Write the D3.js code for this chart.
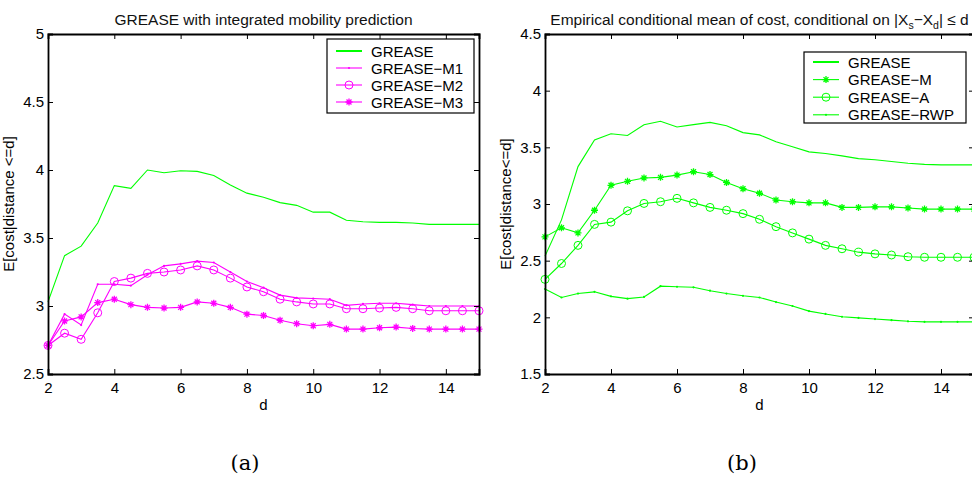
<!DOCTYPE html>
<html>
<head>
<meta charset="utf-8">
<script src="https://cdn.jsdelivr.net/npm/d3@7"></script>
<style>
  body { margin: 0; background: #fff; }
  svg { display: block; font-family: "Liberation Sans", Arial, sans-serif; }
</style>
</head>
<body>
<svg id="chart" width="972" height="479"></svg>
<script>
// x values shared by every series (d = 2 .. 15, step 0.5)
const dValues = [2, 2.5, 3, 3.5, 4, 4.5, 5, 5.5, 6, 6.5, 7, 7.5, 8, 8.5, 9, 9.5, 10, 10.5, 11, 11.5, 12, 12.5, 13, 13.5, 14, 14.5, 15];

// Panel (a): GREASE with integrated mobility prediction
const aGrease = [3.03, 3.37, 3.44, 3.61, 3.885, 3.865, 4.0, 3.98, 3.995, 3.99, 3.96, 3.89, 3.83, 3.80, 3.76, 3.74, 3.69, 3.69, 3.63, 3.62, 3.615, 3.615, 3.61, 3.60, 3.60, 3.60, 3.60];
const aM1 = [2.71, 2.94, 2.86, 3.16, 3.16, 3.15, 3.23, 3.295, 3.31, 3.33, 3.32, 3.25, 3.18, 3.135, 3.08, 3.06, 3.055, 3.05, 3.005, 3.015, 3.02, 3.02, 3.01, 3.0, 3.0, 3.0, 3.0];
const aM2 = [2.71, 2.80, 2.755, 2.95, 3.18, 3.205, 3.24, 3.25, 3.265, 3.295, 3.265, 3.205, 3.14, 3.105, 3.05, 3.03, 3.015, 3.015, 2.98, 2.98, 2.985, 2.99, 2.98, 2.965, 2.965, 2.965, 2.965];
const aM3 = [2.71, 2.89, 2.92, 3.025, 3.05, 3.01, 2.99, 2.985, 2.99, 3.03, 3.02, 2.99, 2.94, 2.93, 2.895, 2.87, 2.855, 2.865, 2.83, 2.83, 2.84, 2.845, 2.835, 2.83, 2.83, 2.83, 2.83];

// Panel (b): empirical conditional mean of cost
const bGrease = [2.54, 2.86, 3.33, 3.565, 3.62, 3.605, 3.70, 3.73, 3.68, 3.70, 3.72, 3.69, 3.63, 3.61, 3.55, 3.505, 3.46, 3.445, 3.425, 3.40, 3.39, 3.375, 3.36, 3.35, 3.345, 3.345, 3.345];
const bM = [2.71, 2.79, 2.745, 2.945, 3.165, 3.2, 3.23, 3.235, 3.255, 3.285, 3.26, 3.19, 3.135, 3.095, 3.035, 3.02, 3.01, 3.01, 2.97, 2.97, 2.975, 2.975, 2.965, 2.955, 2.955, 2.955, 2.955];
const bA = [2.335, 2.475, 2.635, 2.82, 2.84, 2.94, 3.005, 3.02, 3.05, 3.01, 2.97, 2.945, 2.915, 2.865, 2.80, 2.745, 2.69, 2.635, 2.605, 2.575, 2.56, 2.55, 2.535, 2.53, 2.53, 2.53, 2.53];
const bRwp = [2.25, 2.175, 2.21, 2.225, 2.185, 2.165, 2.18, 2.275, 2.27, 2.265, 2.235, 2.21, 2.19, 2.175, 2.135, 2.1, 2.055, 2.03, 2.005, 1.995, 1.985, 1.975, 1.965, 1.96, 1.96, 1.96, 1.96];

const xTicks = [2, 4, 6, 8, 10, 12, 14];
const aYTicks = [2.5, 3, 3.5, 4, 4.5, 5];
const bYTicks = [1.5, 2, 2.5, 3, 3.5, 4, 4.5];

const GREEN = '#00ff00';
const MAGENTA = '#ff00ff';

const svg = d3.select('#chart');

// star marker like matlab '*'
function starPath(r) {
    const d = r * 0.7071;
    return `M${-r},0L${r},0M0,${-r}L0,${r}M${-d},${-d}L${d},${d}M${-d},${d}L${d},${-d}`;
}

function drawMarker(g, kind, x, y, color) {
    if (kind === 'circle') {
        g.append('circle').attr('cx', x).attr('cy', y).attr('r', 4)
            .attr('fill', 'none').attr('stroke', color).attr('stroke-width', 1);
    } else if (kind === 'dot') {
        g.append('circle').attr('cx', x).attr('cy', y).attr('r', 1.1).attr('fill', color);
    } else if (kind === 'star') {
        g.append('path').attr('d', starPath(3.5)).attr('transform', `translate(${x},${y})`)
            .attr('fill', 'none').attr('stroke', color).attr('stroke-width', 1.3);
    }
}

function drawPanel(opts) {
    const { left, top, right, bottom, yDomain, yTicks, series, title, ylabel, caption, legend } = opts;
    const g = svg.append('g');

    const x = d3.scaleLinear().domain([2, 15]).range([left, right]);
    const y = d3.scaleLinear().domain(yDomain).range([bottom, top]);

    // series
    const line = d3.line().x((d, i) => x(dValues[i])).y(d => y(d));
    series.forEach(s => {
        g.append('path').datum(s.values).attr('fill', 'none')
            .attr('stroke', s.color).attr('stroke-width', 1.1).attr('d', line);
        if (s.marker) {
            s.values.forEach((v, i) => drawMarker(g, s.marker, x(dValues[i]), y(v), s.color));
        }
    });

    // axes with inward ticks, box on
    const axB = g.append('g').attr('transform', `translate(0,${bottom})`)
        .call(d3.axisBottom(x).tickValues(xTicks).tickSize(-5).tickPadding(5).tickFormat(d3.format('d')));
    const axT = g.append('g').attr('transform', `translate(0,${top})`)
        .call(d3.axisTop(x).tickValues(xTicks).tickSize(-5).tickFormat(''));
    const axL = g.append('g').attr('transform', `translate(${left},0)`)
        .call(d3.axisLeft(y).tickValues(yTicks).tickSize(-5).tickPadding(4).tickFormat(d => d));
    const axR = g.append('g').attr('transform', `translate(${right},0)`)
        .call(d3.axisRight(y).tickValues(yTicks).tickSize(-5).tickFormat(''));
    [axB, axT, axL, axR].forEach(a => {
        a.select('.domain').attr('stroke', '#000').attr('stroke-width', 1.8);
        a.selectAll('.tick line').attr('stroke', '#000').attr('stroke-width', 1);
        a.selectAll('text').attr('font-size', 15).attr('fill', '#000')
            .attr('font-family', '"Liberation Sans", Arial, sans-serif');
    });
    axB.selectAll('text').attr('dy', '0.9em');

    // title
    const t = g.append('text').attr('x', (left + right) / 2).attr('y', 25)
        .attr('text-anchor', 'middle').attr('font-size', 15.5).attr('fill', '#111');
    title(t);

    // axis labels
    g.append('text').attr('x', (left + right) / 2).attr('y', 410)
        .attr('text-anchor', 'middle').attr('font-size', 15).text('d');
    g.append('text').attr('transform', `translate(${left - 34},${(top + bottom) / 2}) rotate(-90)`)
        .attr('text-anchor', 'middle').attr('font-size', 15).text(ylabel);

    // caption
    svg.append('text').attr('x', caption.x).attr('y', 470).attr('text-anchor', 'middle')
        .attr('font-family', '"DejaVu Serif", "Liberation Serif", serif').attr('font-size', 21)
        .text(caption.text);

    // legend
    const lg = g.append('g');
    lg.append('rect').attr('x', legend.x).attr('y', legend.y).attr('width', legend.w).attr('height', legend.h)
        .attr('fill', '#fff').attr('stroke', '#000').attr('stroke-width', 1.2);
    series.forEach((s, i) => {
        const cy = legend.y + legend.first + i * legend.step;
        lg.append('line').attr('x1', legend.x + 9).attr('x2', legend.x + 35).attr('y1', cy).attr('y2', cy)
            .attr('stroke', s.color).attr('stroke-width', s.marker ? 1.1 : 2);
        if (s.marker) drawMarker(lg, s.marker, legend.x + 22, cy, s.color);
        lg.append('text').attr('x', legend.x + 44).attr('y', cy + 5.5).attr('font-size', 15).text(s.name);
    });
}

drawPanel({
    left: 48, top: 34, right: 479, bottom: 374,
    yDomain: [2.5, 5], yTicks: aYTicks,
    series: [
        { name: 'GREASE', values: aGrease, color: GREEN, marker: null },
        { name: 'GREASE\u2212M1', values: aM1, color: MAGENTA, marker: 'dot' },
        { name: 'GREASE\u2212M2', values: aM2, color: MAGENTA, marker: 'circle' },
        { name: 'GREASE\u2212M3', values: aM3, color: MAGENTA, marker: 'star' }
    ],
    title: t => t.text('GREASE with integrated mobility prediction'),
    ylabel: 'E[cost|distance <=d]',
    caption: { x: 245, text: '(a)' },
    legend: { x: 327, y: 39, w: 147, h: 74, first: 12, step: 17 }
});

drawPanel({
    left: 545, top: 34, right: 974, bottom: 374,
    yDomain: [1.5, 4.5], yTicks: bYTicks,
    series: [
        { name: 'GREASE', values: bGrease, color: GREEN, marker: null },
        { name: 'GREASE\u2212M', values: bM, color: GREEN, marker: 'star' },
        { name: 'GREASE\u2212A', values: bA, color: GREEN, marker: 'circle' },
        { name: 'GREASE\u2212RWP', values: bRwp, color: GREEN, marker: 'dot' }
    ],
    title: t => {
        t.append('tspan').text('Empirical conditional mean of cost, conditional on |X');
        t.append('tspan').attr('font-size', 10.5).attr('dy', 4).text('s');
        t.append('tspan').attr('dy', -4).text('\u2212X');
        t.append('tspan').attr('font-size', 10.5).attr('dy', 4).text('d');
        t.append('tspan').attr('dy', -4).text('| \u2264 d');
    },
    ylabel: 'E[cost|distance<=d]',
    caption: { x: 742, text: '(b)' },
    legend: { x: 804, y: 52, w: 162, h: 71, first: 10, step: 17.6 }
});
</script>
</body>
</html>
